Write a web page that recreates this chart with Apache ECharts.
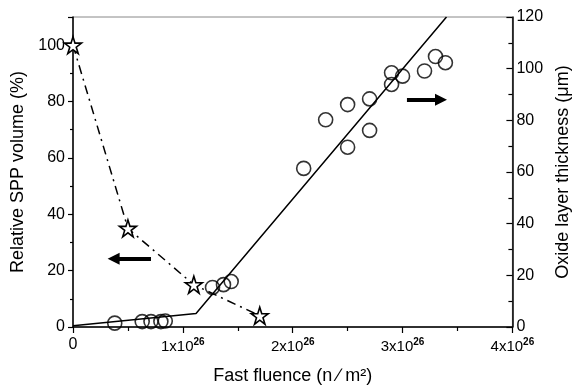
<!DOCTYPE html>
<html>
<head>
<meta charset="utf-8">
<script src="https://cdn.jsdelivr.net/npm/echarts@6/dist/echarts.min.js"></script>
<style>
html,body{margin:0;padding:0;background:#fff;}
#c{width:580px;height:390px;}
</style>
</head>
<body>
<div id="c"></div>
<script>
// Fluence values in units of 1e26 n/m^2
const sppFluence = [0, 0.5, 1.1, 1.7];
const sppVolume = [100, 35, 15, 4];

const oxideFluence = [0.38, 0.63, 0.71, 0.80, 0.84, 1.27, 1.37, 1.44, 2.10, 2.30, 2.50, 2.50, 2.70, 2.70, 2.90, 2.90, 3.00, 3.20, 3.30, 3.39];
const oxideThickness = [1.5, 2.1, 2.1, 2.1, 2.3, 15.3, 16.4, 17.6, 61.4, 80.2, 86.1, 69.6, 88.3, 76.1, 98.4, 93.9, 97.1, 99.1, 104.7, 102.3];

const fitFluence = [0, 1.12, 3.4];
const fitThickness = [0.5, 5.2, 120];

const xTickLabels = ['0', '1', '2', '3', '4'];
const leftArrow = {from: [0.71, 24.2], to: [0.37, 24.2]};
const rightArrow = {from: [3.04, 88], to: [3.35, 88]};

const zip = (a, b) => a.map((v, i) => [v, b[i]]);
const starPath = 'path://M50,0 L61.2,34.5 L97.6,34.5 L68.2,55.9 L79.4,90.5 L50,69.1 L20.6,90.5 L31.8,55.9 L2.4,34.5 L38.8,34.5 Z';
const font = 'Liberation Sans';

const chart = echarts.init(document.getElementById('c'), null, {renderer: 'canvas'});
chart.setOption({
  animation: false,
  backgroundColor: '#fff',
  grid: {left: 73, right: 62, top: 17, bottom: 63, show: true, borderColor: '#888', borderWidth: 1, backgroundColor: 'transparent'},
  xAxis: {
    type: 'value', min: 0, max: 4, interval: 1,
    name: 'Fast fluence (n \u2215 m²)', nameLocation: 'middle', nameGap: 40,
    nameTextStyle: {fontFamily: font, fontSize: 18, color: '#000'},
    axisLine: {show: true, lineStyle: {color: '#000', width: 1.5}},
    axisTick: {show: true, inside: false, length: 6, lineStyle: {color: '#000', width: 1.2}},
    minorTick: {show: true, splitNumber: 2, length: 4, lineStyle: {color: '#000', width: 1.2}},
    splitLine: {show: false},
    axisLabel: {
      margin: 10, color: '#000', fontFamily: font, fontSize: 16,
      formatter: function (v) {
        const s = xTickLabels[Math.round(v)];
        return s === '0' ? '0' : '{a|' + s + 'x10}{b|26}';
      },
      rich: {
        a: {fontFamily: font, fontSize: 15, color: '#000'},
        b: {fontFamily: font, fontSize: 10, fontWeight: 'bold', color: '#000', padding: [0, 0, 9, 0]}
      }
    }
  },
  yAxis: [
    {
      type: 'value', min: 0, max: 110, interval: 20, position: 'left',
      name: 'Relative SPP volume (%)', nameLocation: 'middle', nameGap: 37, nameRotate: 90,
      nameTextStyle: {fontFamily: font, fontSize: 18, color: '#000'},
      axisLine: {show: true, lineStyle: {color: '#000', width: 1.5}},
      axisTick: {show: true, inside: false, length: 5, lineStyle: {color: '#000', width: 1.2}},
      minorTick: {show: true, splitNumber: 2, length: 3, lineStyle: {color: '#000', width: 1.2}},
      splitLine: {show: false},
      axisLabel: {margin: 8, color: '#000', fontFamily: font, fontSize: 16,
        formatter: function (v) { return v > 100 ? '' : String(v); }}
    },
    {
      type: 'value', min: 0, max: 120, interval: 20, position: 'right',
      name: 'Oxide layer thickness (μm)', nameLocation: 'middle', nameGap: 40, nameRotate: 90,
      nameTextStyle: {fontFamily: font, fontSize: 18, color: '#000'},
      axisLine: {show: true, lineStyle: {color: '#000', width: 1.5}},
      axisTick: {show: true, inside: true, length: 6, lineStyle: {color: '#000', width: 1.2}},
      minorTick: {show: true, splitNumber: 2, length: 4, lineStyle: {color: '#000', width: 1.2}},
      splitLine: {show: false},
      axisLabel: {margin: 4, color: '#000', fontFamily: font, fontSize: 16}
    }
  ],
  series: [
    {
      type: 'line', yAxisIndex: 1, data: zip(fitFluence, fitThickness),
      showSymbol: false, symbol: 'none', clip: true,
      lineStyle: {color: '#000', width: 1.5}, z: 2
    },
    {
      type: 'line', yAxisIndex: 0, data: zip(sppFluence, sppVolume),
      symbol: starPath, symbolSize: 17, clip: false,
      lineStyle: {color: '#000', width: 1.5, type: [9, 5, 2, 5]},
      itemStyle: {color: '#fff', borderColor: '#000', borderWidth: 1.6},
      markLine: {
        silent: true, symbol: ['triangle', 'none'], symbolSize: 12,
        label: {show: false},
        itemStyle: {color: '#000'},
        lineStyle: {color: '#000', width: 4, type: 'solid'},
        data: [[{coord: leftArrow.to}, {coord: leftArrow.from}]]
      },
      z: 3
    },
    {
      type: 'scatter', yAxisIndex: 1, data: zip(oxideFluence, oxideThickness),
      symbol: 'circle', symbolSize: 14,
      itemStyle: {color: 'rgba(255,255,255,0)', borderColor: '#000', borderWidth: 1.6},
      markLine: {
        silent: true, symbol: ['none', 'triangle'], symbolSize: 12,
        label: {show: false},
        itemStyle: {color: '#000'},
        lineStyle: {color: '#000', width: 4, type: 'solid'},
        data: [[{coord: rightArrow.from}, {coord: rightArrow.to}]]
      },
      z: 4
    }
  ]
});
</script>
</body>
</html>
